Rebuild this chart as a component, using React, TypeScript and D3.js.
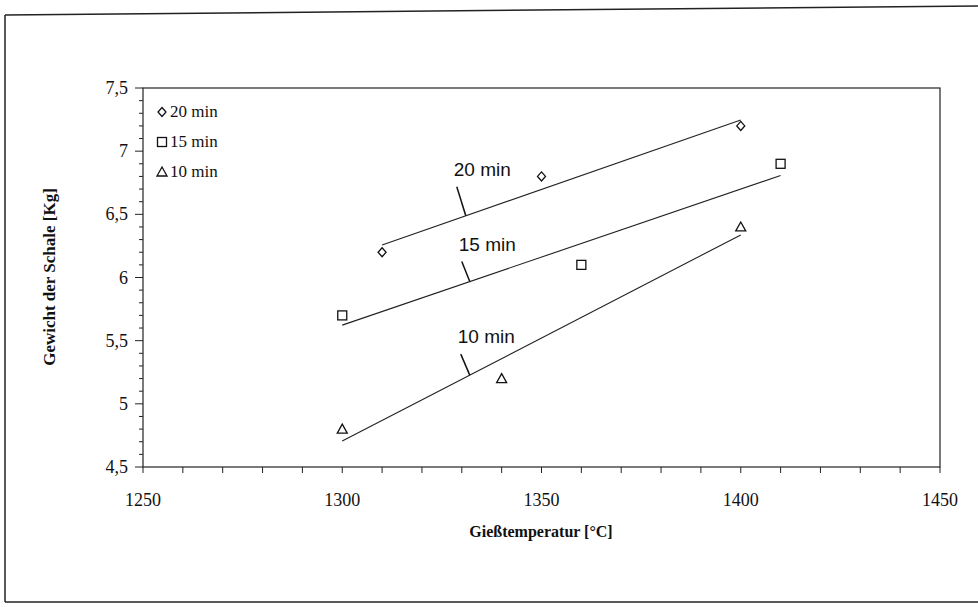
import React from "react";
import * as d3 from "d3";

const seriesNames = ["20 min", "15 min", "10 min"];
const symbolsOf = ["diamond", "square", "triangle"];
const temps20 = [1310, 1350, 1400];
const weights20 = [6.2, 6.8, 7.2];
const temps15 = [1300, 1360, 1410];
const weights15 = [5.7, 6.1, 6.9];
const temps10 = [1300, 1340, 1400];
const weights10 = [4.8, 5.2, 6.4];
const xTicks = [1250, 1300, 1350, 1400, 1450];
const yTicks = [4.5, 5, 5.5, 6, 6.5, 7, 7.5];
const annotationTemps = [1331, 1332, 1332];

const W = 978;
const H = 611;
const L = 143, R = 940, T = 88, B = 467;

function regression(xs: number[], ys: number[]) {
  const mx = d3.mean(xs)!;
  const my = d3.mean(ys)!;
  let sxy = 0, sxx = 0;
  xs.forEach((x, i) => {
    sxy += (x - mx) * (ys[i] - my);
    sxx += (x - mx) * (x - mx);
  });
  const b = sxy / sxx;
  return (x: number) => my + b * (x - mx);
}

function Marker({ kind, x, y }: { kind: string; x: number; y: number }) {
  const st = { fill: "none", stroke: "#111", strokeWidth: 1.3 };
  if (kind === "diamond")
    return <path d={`M${x},${y - 4.5}L${x + 4},${y}L${x},${y + 4.5}L${x - 4},${y}Z`} {...st} />;
  if (kind === "square")
    return <rect x={x - 4.5} y={y - 4.5} width={9} height={9} {...st} />;
  return <path d={`M${x},${y - 5}L${x + 5},${y + 4}L${x - 5},${y + 4}Z`} {...st} />;
}

export default function App() {
  const x = d3.scaleLinear().domain([1250, 1450]).range([L, R]);
  const y = d3.scaleLinear().domain([4.5, 7.5]).range([B, T]);
  const data = [
    { t: temps20, w: weights20 },
    { t: temps15, w: weights15 },
    { t: temps10, w: weights10 },
  ];
  const leaderOffsets = [
    [-9, -29],
    [-8, -20],
    [-9, -21],
  ];
  const xMinor = d3.range(1250, 1451, 10);
  const yMinor = d3.range(45, 76, 1).map((v) => v / 10);
  const serif = "'Liberation Serif', 'Times New Roman', serif";
  const sans = "'Liberation Sans', Arial, sans-serif";
  const line = d3.line<number[]>().x((d) => d[0]).y((d) => d[1]);

  return (
    <svg width={W} height={H} style={{ position: "absolute", left: 0, top: 0, background: "#fff" }}>
      {/* outer frame */}
      <line x1={5} y1={15} x2={978} y2={6} stroke="#222" strokeWidth={1.5} />
      <line x1={5} y1={15} x2={5} y2={602} stroke="#222" strokeWidth={1.5} />
      <line x1={5} y1={602} x2={978} y2={602} stroke="#222" strokeWidth={1.5} />

      {/* plot box */}
      <rect x={L} y={T} width={R - L} height={B - T} fill="none" stroke="#222" strokeWidth={1.2} />

      {/* y ticks */}
      {yMinor.map((v, i) => (
        <line key={"ym" + i} x1={L - (Math.abs(v * 2 - Math.round(v * 2)) < 1e-6 ? 8 : 4)} x2={L} y1={y(v)} y2={y(v)} stroke="#222" strokeWidth={1} />
      ))}
      {yTicks.map((v) => (
        <text key={"yl" + v} x={128} y={y(v) + 6} textAnchor="end" fontFamily={serif} fontSize={18} fill="#111">
          {String(v).replace(".", ",")}
        </text>
      ))}

      {/* x ticks */}
      {xMinor.map((v) => (
        <line key={"xm" + v} x1={x(v)} x2={x(v)} y1={B} y2={B + 6} stroke="#222" strokeWidth={1} />
      ))}
      {xTicks.map((v) => (
        <text key={"xl" + v} x={x(v)} y={506} textAnchor="middle" fontFamily={serif} fontSize={18} fill="#111">
          {v}
        </text>
      ))}

      {/* axis titles */}
      <text x={541} y={537} textAnchor="middle" fontFamily={serif} fontSize={16} fontWeight="bold" fill="#111">
        Gießtemperatur [°C]
      </text>
      <text transform={`translate(55,277) rotate(-90)`} textAnchor="middle" fontFamily={serif} fontSize={17} fontWeight="bold" fill="#111">
        Gewicht der Schale [Kg]
      </text>

      {/* trend lines */}
      {data.map((s, i) => {
        const f = regression(s.t, s.w);
        const x0 = d3.min(s.t)!, x1 = d3.max(s.t)!;
        return (
          <path key={"tl" + i} d={line([[x(x0), y(f(x0))], [x(x1), y(f(x1))]])!} fill="none" stroke="#222" strokeWidth={1.1} />
        );
      })}

      {/* annotations */}
      {data.map((s, i) => {
        const f = regression(s.t, s.w);
        const ax = x(annotationTemps[i]);
        const ay = y(f(annotationTemps[i]));
        const [dx, dy] = leaderOffsets[i];
        return (
          <g key={"an" + i}>
            <line x1={ax} y1={ay} x2={ax + dx} y2={ay + dy} stroke="#111" strokeWidth={1.5} />
            <text x={ax + dx - 3} y={ay + dy - 11} fontFamily={sans} fontSize={19} fill="#111">
              {seriesNames[i]}
            </text>
          </g>
        );
      })}

      {/* markers */}
      {data.map((s, i) =>
        s.t.map((t, j) => <Marker key={`m${i}-${j}`} kind={symbolsOf[i]} x={x(t)} y={y(s.w[j])} />)
      )}

      {/* legend */}
      {seriesNames.map((n, i) => {
        const ly = 112 + i * 30;
        return (
          <g key={"lg" + i}>
            <Marker kind={symbolsOf[i]} x={162} y={ly} />
            <text x={170} y={ly + 5} fontFamily={serif} fontSize={17} fill="#111">
              {n}
            </text>
          </g>
        );
      })}
    </svg>
  );
}
